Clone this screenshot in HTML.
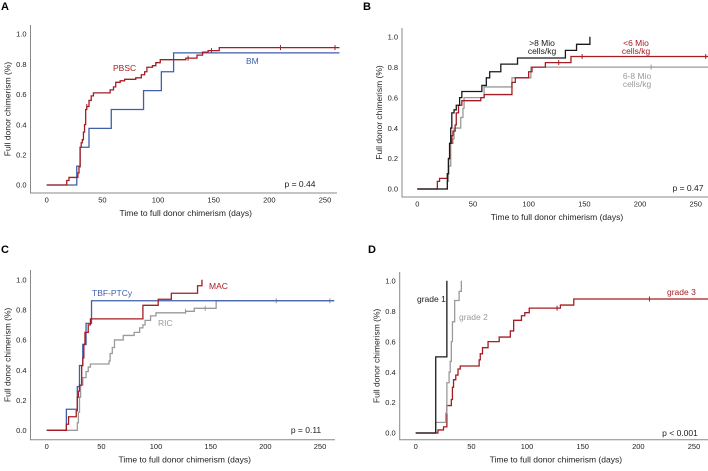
<!DOCTYPE html>
<html><head><meta charset="utf-8"><style>
body{margin:0;background:#fff;width:708px;height:466px;overflow:hidden}
svg{font-family:"Liberation Sans",sans-serif}
</style></head><body>
<svg id="fig" width="708" height="466"></svg>
<script>
// Panel A
const aPbscT=[0,18,20,28,29,30,31,32,33,34,35,36,38,40,42,57,60,62,66,70,80,85,88,90,95,98,102,125,135,140,145,155];
const aPbscV=[0,0.03,0.05,0.08,0.12,0.25,0.28,0.3,0.35,0.4,0.5,0.52,0.56,0.59,0.61,0.63,0.65,0.68,0.69,0.7,0.71,0.73,0.75,0.78,0.79,0.81,0.83,0.84,0.86,0.88,0.89,0.91];
const aPbscCens=[36,127,148,210,259];
const aBmT=[0,27,30,38,58,87,103,114];
const aBmV=[0,0.125,0.25,0.375,0.5,0.625,0.75,0.875];
// Panel B
const bHiT=[0,27,28,29,30,31,33,35,38,40,58,62,65,75,90,133,143,155];
const bHiV=[0,0.1,0.2,0.3,0.4,0.5,0.52,0.55,0.6,0.64,0.68,0.73,0.77,0.82,0.86,0.91,0.95,1.0];
const bLoT=[0,18,20,27,28,29,31,32,34,35,37,40,57,60,85,88,100,103,115,138];
const bLoV=[0,0.05,0.07,0.1,0.2,0.3,0.35,0.38,0.42,0.5,0.55,0.58,0.6,0.62,0.7,0.73,0.77,0.8,0.83,0.87];
const bLoCens=[127,148,259];
const bMidT=[0,27,28,30,32,33,39,41,42,58,60,85,102];
const bMidV=[0,0.05,0.15,0.3,0.33,0.4,0.47,0.53,0.6,0.6,0.67,0.73,0.8];
const bMidCens=[210];
// Panel C
const cTbfT=[0,18,28,30,33,36,41];
const cTbfV=[0,0.14,0.29,0.43,0.57,0.71,0.86];
const cMacT=[0,18,20,27,28,29,30,32,33,34,35,38,40,88,102,114,138,142];
const cMacV=[0,0.04,0.09,0.13,0.22,0.26,0.3,0.43,0.48,0.57,0.65,0.7,0.74,0.83,0.87,0.91,0.96,1.0];
const cRicT=[0,27,28,29,30,31,33,36,38,40,57,58,60,62,70,80,85,88,90,95,100,127,135,155];
const cRicV=[0,0,0.05,0.12,0.22,0.3,0.35,0.39,0.42,0.44,0.46,0.51,0.55,0.6,0.63,0.65,0.68,0.7,0.73,0.76,0.78,0.79,0.81,0.86];
const cRicCens=[127,145,210,259];
// Panel D
const dG1T=[0,18,28];
const dG1V=[0,0.5,1.0];
const dG2T=[0,18,27,28,30,31,32,33,35,39,41];
const dG2V=[0,0.07,0.13,0.33,0.4,0.47,0.6,0.73,0.87,0.93,1.0];
const dG3T=[0,20,25,28,32,33,34,36,38,40,57,58,60,65,75,85,88,95,98,102,130,142];
const dG3V=[0,0.02,0.04,0.18,0.22,0.3,0.35,0.38,0.42,0.44,0.48,0.52,0.56,0.6,0.63,0.67,0.74,0.77,0.79,0.82,0.84,0.88];
const dG3Cens=[127,210];
const xTicks=[0,50,100,150,200,250];
const yTicks=[0,0.2,0.4,0.6,0.8,1.0];

const NS="http://www.w3.org/2000/svg";
const svg=document.getElementById('fig');
function mk(tag,attrs,parent){const e=document.createElementNS(NS,tag);for(const k in attrs)e.setAttribute(k,attrs[k]);(parent||svg).appendChild(e);return e;}
function txt(s,x,y,attrs,parent){const e=mk('text',Object.assign({x:x,y:y,'font-size':9,fill:'#222'},attrs),parent);e.textContent=s;return e;}

function panel(cfg){
  const g=mk('g',{});
  
  
  const sx=t=>cfg.x0+(cfg.x250-cfg.x0)*t/250;
  const sy=v=>cfg.y0+(cfg.y1-cfg.y0)*v;
  const L=txt(cfg.letter,cfg.lx,cfg.ly,{'font-size':11,'font-weight':'bold',fill:'#000'},g);
  
  
  const ax=mk('path',{d:`M${cfg.ax},${cfg.top}V${cfg.axy}H${cfg.right}`,stroke:'#888',fill:'none','stroke-width':1},g);
  
  
  xTicks.forEach(t=>{const e=txt(String(t),sx(t),cfg.axy+9.5,{'text-anchor':'middle','font-size':7.5},g);
    
    });
  yTicks.forEach(v=>{const e=txt(v.toFixed(1),cfg.ax-4,sy(v)+2.7,{'text-anchor':'end','font-size':7.5},g);
    
    });
  const xt=txt('Time to full donor chimerism (days)',(cfg.ax+cfg.right)/2+2,cfg.axy+23,{'text-anchor':'middle','font-size':8.5},g);
  
  
  const yc=(cfg.top+cfg.axy)/2;
  const yt=txt('Full donor chimerism (%)',cfg.ax-20,yc,{'text-anchor':'middle','font-size':8.5,transform:`rotate(-90 ${cfg.ax-20} ${yc})`},g);
  
  
  cfg.series.forEach(s=>{
    let d=`M${sx(s.t[0])},${sy(s.v[0])}`;
    for(let i=1;i<s.t.length;i++){d+=`H${sx(s.t[i])}V${sy(s.v[i])}`;}
    if(s.end!==undefined)d+=`H${sx(s.end)}`;
    const p=mk('path',{d:d,stroke:s.c,fill:'none','stroke-width':1.3},g);
    
    
    (s.cens||[]).forEach(t=>{
      let v=s.v[0];for(let i=0;i<s.t.length;i++)if(s.t[i]<=t)v=s.v[i];
      const c=mk('line',{x1:sx(t),x2:sx(t),y1:sy(v)-2.5,y2:sy(v)+2.5,stroke:s.c,'stroke-width':1},g);
      
      
    });
  });
  cfg.labels.forEach(l=>{const e=txt(l[0],l[1],l[2],{'text-anchor':l[4]||'middle',fill:l[3],'font-size':8.5},g);
    
    });
}
const RED='#a51d22',BLUE='#3f5faa',GREY='#9a9a9a',BLK='#1a1a1a';
panel({letter:'A',lx:1,ly:10,ax:30.5,axy:193,top:25,right:337,x0:46.7,x250:325,y0:185,y1:34,
 series:[{name:'bm-curve',t:aBmT,v:aBmV,c:BLUE,end:263},{name:'pbsc-curve',t:aPbscT,v:aPbscV,c:RED,end:263,cens:aPbscCens}],
 labels:[['PBSC',113,71,RED,'start'],['BM',246,64,BLUE,'start'],['p = 0.44',300,187,'#222']]});
panel({letter:'B',lx:363,ly:10,ax:402,axy:197,top:28,right:708,x0:417.3,x250:695.7,y0:189,y1:36.7,
 series:[{name:'mid-dose-curve',t:bMidT,v:bMidV,c:GREY,end:263,cens:bMidCens},{name:'low-dose-curve',t:bLoT,v:bLoV,c:RED,end:263,cens:bLoCens},{name:'high-dose-curve',t:bHiT,v:bHiV,c:BLK}],
 labels:[['>8 Mio',542,46,BLK],['cells/kg',542,54,BLK],['<6 Mio',636,46,RED],['cells/kg',636,54,RED],['6-8 Mio',637,79,GREY],['cells/kg',637,87,GREY],['p = 0.47',688,191,'#222']]});
panel({letter:'C',lx:1,ly:253,ax:30.5,axy:439.7,top:270,right:335,x0:46.7,x250:320,y0:430.3,y1:279.7,
 series:[{name:'ric-curve',t:cRicT,v:cRicV,c:GREY,end:263,cens:cRicCens},{name:'tbf-ptcy-curve',t:cTbfT,v:cTbfV,c:BLUE,end:263},{name:'mac-curve',t:cMacT,v:cMacV,c:RED}],
 labels:[['TBF-PTCy',92,296,BLUE,'start'],['MAC',209,289,RED,'start'],['RIC',158,326,GREY,'start'],['p = 0.11',306,433,'#222']]});
panel({letter:'D',lx:368,ly:253,ax:399.7,axy:439.7,top:272,right:708,x0:415.7,x250:694,y0:433,y1:280.7,
 series:[{name:'grade3-curve',t:dG3T,v:dG3V,c:RED,end:263,cens:dG3Cens},{name:'grade2-curve',t:dG2T,v:dG2V,c:GREY},{name:'grade1-curve',t:dG1T,v:dG1V,c:BLK}],
 labels:[['grade 1',417,302,BLK,'start'],['grade 2',459,320,GREY,'start'],['grade 3',667,295,RED,'start'],['p < 0.001',680,436,'#222']]});
</script>
</body></html>
